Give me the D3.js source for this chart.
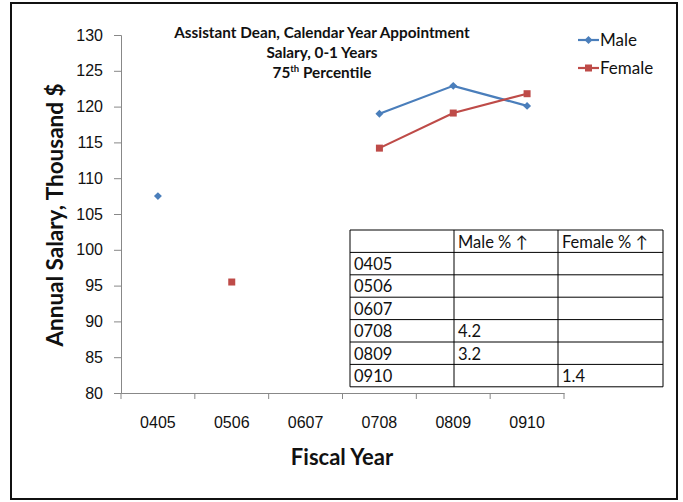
<!DOCTYPE html>
<html>
<head>
<meta charset="utf-8">
<script src="https://cdn.jsdelivr.net/npm/d3@7"></script>
<style>
  body { margin: 0; background: #fff; }
  svg { display: block; font-family: Lato, "Open Sans", sans-serif; }
</style>
</head>
<body>
<svg id="chart" width="683" height="502"></svg>
<script>
// Fiscal years on the x axis
const years = ["0405", "0506", "0607", "0708", "0809", "0910"];
// 75th percentile salary, thousand $ (null = no data)
const male   = [107.5, null, null, 119.0, 122.9, 120.1];
const female = [null, 95.5, null, 114.2, 119.1, 121.8];
// Y axis ticks
const yTicks = [80, 85, 90, 95, 100, 105, 110, 115, 120, 125, 130];
// Year-over-year change table
const tableHeader = ["", "Male % \u2191", "Female % \u2191"];
const maleChange   = ["", "", "", "4.2", "3.2", ""];
const femaleChange = ["", "", "", "", "", "1.4"];
const titleLines = ["Assistant Dean, Calendar Year Appointment", "Salary, 0-1 Years", "75th Percentile"];

const svg = d3.select("#chart");
const plot = { left: 121, right: 564, top: 35, bottom: 393 };
const blue = "#4A7EBB", red = "#BE4B48";

// outer frame
svg.append("rect").attr("x", 11).attr("y", 3).attr("width", 666).attr("height", 496)
  .attr("fill", "none").attr("stroke", "#111").attr("stroke-width", 2);

const x = d3.scaleBand().domain(years).range([plot.left, plot.right]);
const y = d3.scaleLinear().domain([80, 130]).range([plot.bottom, plot.top]);

// y axis
const yAxis = svg.append("g").attr("transform", `translate(${plot.left},0)`)
  .call(d3.axisLeft(y).tickValues(yTicks).tickSize(7).tickPadding(11));
yAxis.select(".domain").attr("stroke", "#888");
yAxis.selectAll(".tick line").attr("stroke", "#888");
yAxis.selectAll("text").attr("font-size", 16).attr("fill", "#111");

// x axis with ticks on category boundaries
const xAxis = svg.append("g").attr("transform", `translate(0,${plot.bottom})`)
  .call(d3.axisBottom(x).tickSize(0).tickPadding(24));
xAxis.select(".domain").attr("stroke", "#888");
xAxis.selectAll("text").attr("font-size", 16).attr("fill", "#111");
const bounds = years.map(d => x(d)).concat([x(years[years.length - 1]) + x.bandwidth()]);
svg.append("g").selectAll("line").data(bounds).join("line")
  .attr("x1", d => d).attr("x2", d => d)
  .attr("y1", plot.bottom).attr("y2", plot.bottom + 6)
  .attr("stroke", "#888");

// axis titles
svg.append("text").attr("transform", `translate(63,${(plot.top + plot.bottom) / 2 + 1}) rotate(-90)`)
  .attr("text-anchor", "middle").attr("font-size", 22.5).attr("font-weight", "bold")
  .attr("fill", "#111").text("Annual Salary, Thousand $");
svg.append("text").attr("x", 342).attr("y", 465)
  .attr("text-anchor", "middle").attr("font-size", 22).attr("font-weight", "bold")
  .attr("fill", "#111").text("Fiscal Year");

// chart title
const title = svg.append("text").attr("text-anchor", "middle").attr("font-size", 15.3)
  .attr("font-weight", "bold").attr("fill", "#111");
title.append("tspan").attr("x", 322).attr("y", 38).text(titleLines[0]);
title.append("tspan").attr("x", 322).attr("y", 58).text(titleLines[1]);
const t3 = title.append("tspan").attr("x", 322).attr("y", 78);
t3.text("75");
t3.append("tspan").attr("font-size", 9.5).attr("dy", -6).text("th");
t3.append("tspan").attr("dy", 6).text(" Percentile");

const cx = (d, i) => x(years[i]) + x.bandwidth() / 2;
const line = d3.line().defined(d => d != null).x(cx).y(d => y(d));

// series lines
svg.append("path").datum(male).attr("d", line).attr("fill", "none")
  .attr("stroke", blue).attr("stroke-width", 2.2);
svg.append("path").datum(female).attr("d", line).attr("fill", "none")
  .attr("stroke", red).attr("stroke-width", 2.2);

// markers
const diamond = d3.symbol().type(d3.symbolDiamond2).size(40);
svg.append("g").selectAll("path").data(male.map((v, i) => ({ v, i })).filter(d => d.v != null))
  .join("path").attr("d", diamond)
  .attr("transform", d => `translate(${cx(null, d.i)},${y(d.v)})`).attr("fill", blue);
svg.append("g").selectAll("rect").data(female.map((v, i) => ({ v, i })).filter(d => d.v != null))
  .join("rect").attr("width", 7).attr("height", 7)
  .attr("x", d => cx(null, d.i) - 3.5).attr("y", d => y(d.v) - 3.5).attr("fill", red);

// legend
const legend = svg.append("g");
[["Male", blue, "d"], ["Female", red, "s"]].forEach(([name, color, m], k) => {
  const ly = 40 + k * 28;
  legend.append("line").attr("x1", 578).attr("x2", 599).attr("y1", ly).attr("y2", ly)
    .attr("stroke", color).attr("stroke-width", 2.2);
  if (m === "d") {
    legend.append("path").attr("d", diamond).attr("transform", `translate(588.5,${ly})`).attr("fill", color);
  } else {
    legend.append("rect").attr("x", 585).attr("y", ly - 3.5).attr("width", 7).attr("height", 7).attr("fill", color);
  }
  legend.append("text").attr("x", 600).attr("y", ly + 6).attr("font-size", 17)
    .attr("fill", "#111").text(name);
});

// change table
const tbl = { left: 350, top: 230, rowH: 22.4, cols: [350, 454, 558, 663] };
const rows = [tableHeader].concat(years.map((yr, i) => [yr, maleChange[i], femaleChange[i]]));
const tg = svg.append("g");
tg.append("rect").attr("x", tbl.left).attr("y", tbl.top)
  .attr("width", tbl.cols[3] - tbl.cols[0]).attr("height", tbl.rowH * rows.length)
  .attr("fill", "#fff");
rows.forEach((r, ri) => {
  r.forEach((cell, ci) => {
    tg.append("text").attr("x", tbl.cols[ci] + 4).attr("y", tbl.top + ri * tbl.rowH + 17.5)
      .attr("font-size", 16.5).attr("fill", "#111").text(cell);
  });
});
d3.range(rows.length + 1).forEach(ri => {
  tg.append("line").attr("x1", tbl.cols[0]).attr("x2", tbl.cols[3])
    .attr("y1", tbl.top + ri * tbl.rowH).attr("y2", tbl.top + ri * tbl.rowH)
    .attr("stroke", "#000").attr("stroke-width", 1);
});
tbl.cols.forEach(cxp => {
  tg.append("line").attr("x1", cxp).attr("x2", cxp)
    .attr("y1", tbl.top).attr("y2", tbl.top + tbl.rowH * rows.length)
    .attr("stroke", "#000").attr("stroke-width", 1);
});
</script>
</body>
</html>
